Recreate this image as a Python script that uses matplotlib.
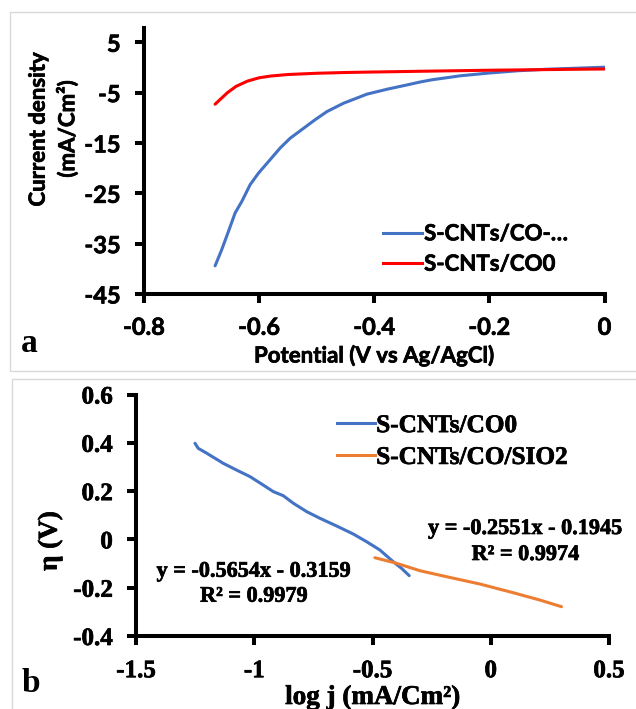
import matplotlib
matplotlib.use("Agg")
import matplotlib.pyplot as plt
import matplotlib.patheffects as pe
from matplotlib.patches import Rectangle
from matplotlib.lines import Line2D

W, H, DPI = 636, 709, 100

plt.rcParams["axes.unicode_minus"] = False
plt.rcParams["font.weight"] = "bold"

# ---- panel a: polarisation curves -------------------------------------
potential_co_sio2 = [-0.6765, -0.665, -0.6534, -0.6417, -0.630, -0.6157, -0.6012,
                     -0.5838, -0.5635, -0.546, -0.523, -0.503, -0.4823, -0.4533,
                     -0.4127, -0.378, -0.3432, -0.32, -0.30, -0.25, -0.20, -0.15,
                     -0.10, -0.05, 0.0]
current_co_sio2 = [-39.4, -36.2, -32.6, -28.9, -26.6, -23.3, -21.0,
                   -18.7, -16.0, -14.05, -12.1, -10.4, -8.77, -7.1,
                   -5.3, -4.33, -3.47, -2.88, -2.45, -1.65, -1.1, -0.65,
                   -0.35, -0.15, 0.05]

potential_co0 = [-0.6765, -0.67, -0.655, -0.64, -0.62, -0.60, -0.58, -0.55,
                 -0.50, -0.45, -0.40, -0.30, -0.20, -0.10, 0.0]
current_co0 = [-7.3, -6.6, -5.0, -3.75, -2.7, -2.05, -1.7, -1.4,
               -1.15, -1.0, -0.9, -0.72, -0.55, -0.42, -0.3]

lsv_xticks = [-0.8, -0.6, -0.4, -0.2, 0]
lsv_xticklabels = ["-0.8", "-0.6", "-0.4", "-0.2", "0"]
lsv_yticks = [5, -5, -15, -25, -35, -45]
lsv_yticklabels = ["5", "-5", "-15", "-25", "-35", "-45"]
lsv_names = ["S-CNTs/CO-…", "S-CNTs/CO0"]

# ---- panel b: Tafel plots ---------------------------------------------
logj_co0 = [-1.2506, -1.2367, -1.2012, -1.131, -1.0745, -1.018, -0.962, -0.9197,
            -0.8774, -0.8352, -0.7785, -0.7223, -0.6517, -0.5816, -0.525,
            -0.4687, -0.4125, -0.377, -0.3448]
eta_co0 = [0.398, 0.377, 0.357, 0.315, 0.287, 0.260, 0.225, 0.198,
           0.181, 0.150, 0.115, 0.0874, 0.0555, 0.0224, -0.0095,
           -0.0439, -0.0923, -0.120, -0.150]

logj_sio2 = [-0.4898, -0.398, -0.2997, -0.1868, -0.0461, 0.0947, 0.2075, 0.2992]
eta_sio2 = [-0.0758, -0.099, -0.1296, -0.1545, -0.1847, -0.2207, -0.251, -0.2787]

tafel_xticks = [-1.5, -1, -0.5, 0, 0.5]
tafel_xticklabels = ["-1.5", "-1", "-0.5", "0", "0.5"]
tafel_yticks = [0.6, 0.4, 0.2, 0, -0.2, -0.4]
tafel_yticklabels = ["0.6", "0.4", "0.2", "0", "-0.2", "-0.4"]
tafel_names = ["S-CNTs/CO0", "S-CNTs/CO/SIO2"]
fit_co0 = ["y = -0.5654x - 0.3159", "R² = 0.9979"]
fit_sio2 = ["y = -0.2551x - 0.1945", "R² = 0.9974"]

BLUE = "#4472C4"
RED = "#FF0000"
ORANGE = "#ED7D31"
SANS = "Lato"
SERIF = "Liberation Serif"
HEAVY = [pe.withStroke(linewidth=0.5, foreground="black")]


def fx(px):
    return px / W


def fy(py):
    return 1 - py / H


fig = plt.figure(figsize=(W / DPI, H / DPI), dpi=DPI)
fig.patch.set_facecolor("white")

# light panel frames
for x0, y0, x1, y1 in [(10, 11.7, 660, 370.7), (11.5, 379, 660, 740)]:
    fig.patches.append(Rectangle((fx(x0), fy(y1)), fx(x1 - x0), (y1 - y0) / H,
                                 transform=fig.transFigure, fill=False,
                                 edgecolor="#d9d9d9", linewidth=1.0, zorder=0))


def style_axes(ax, family, size, xticks, xlabels, yticks, ylabels, ypad, xpad):
    for side in ("top", "right"):
        ax.spines[side].set_visible(False)
    for side in ("left", "bottom"):
        ax.spines[side].set_linewidth(2.9)
        ax.spines[side].set_color("black")
    ax.tick_params(direction="out", length=6.2, width=2.9, color="black",
                   labelsize=size, labelfontfamily=family)
    ax.tick_params(axis="y", pad=ypad)
    ax.tick_params(axis="x", pad=xpad)
    font = {"family": family, "weight": "bold", "size": size}
    ax.set_xticks(xticks)
    ax.set_xticklabels(xlabels, fontdict=font, path_effects=HEAVY)
    ax.set_yticks(yticks)
    ax.set_yticklabels(ylabels, fontdict=font, path_effects=HEAVY)


def heavy_legend(leg):
    for t in leg.get_texts():
        t.set_path_effects(HEAVY)


# ---------------- panel a ----------------
ax1 = fig.add_axes([fx(144), fy(294), (604.5 - 144) / W, (294 - 28) / H])
ax1.plot(potential_co_sio2, current_co_sio2, color=BLUE, lw=2.2, solid_capstyle="round")
ax1.plot(potential_co0, current_co0, color=RED, lw=2.2, solid_capstyle="round")
ax1.set_xlim(-0.8, 0)
ax1.set_ylim(-45, 7.84)
style_axes(ax1, SANS, 17, lsv_xticks, lsv_xticklabels, lsv_yticks, lsv_yticklabels,
           10.5, 9.5)

ax1.set_xlabel("Potential (V vs Ag/AgCl)", family=SANS, weight="bold", fontsize=16,
               va="baseline", ha="center", path_effects=HEAVY)
ax1.xaxis.set_label_coords(0.5, (294 - 362.5) / 266)
ax1.set_ylabel("Current density\n(mA/Cm²)", family=SANS, weight="bold",
               fontsize=16, va="center", ha="center", linespacing=1.45,
               path_effects=HEAVY)
ax1.yaxis.set_label_coords((53 - 144) / 460.5, (294 - 129) / 266)

h1 = [Line2D([], [], color=BLUE, lw=2.2), Line2D([], [], color=RED, lw=2.2)]
leg1 = ax1.legend(h1, lsv_names, loc="center left", bbox_to_anchor=(fx(383), fy(249)),
                  bbox_transform=fig.transFigure, frameon=False, borderpad=0,
                  borderaxespad=0, handlelength=1.75, handletextpad=0.1,
                  labelspacing=0.42, prop={"family": SANS, "weight": "bold", "size": 16})
heavy_legend(leg1)

fig.text(fx(21), fy(351.7), "a", family=SERIF, weight="bold", fontsize=24,
         va="baseline", ha="left")

# ---------------- panel b ----------------
ax2 = fig.add_axes([fx(136), fy(636), (609 - 136) / W, (636 - 394.5) / H])
ax2.plot(logj_co0, eta_co0, color=BLUE, lw=2.2, solid_capstyle="round")
ax2.plot(logj_sio2, eta_sio2, color=ORANGE, lw=2.2, solid_capstyle="round")
ax2.set_xlim(-1.5, 0.5)
ax2.set_ylim(-0.4, 0.6)
style_axes(ax2, SERIF, 18, tafel_xticks, tafel_xticklabels, tafel_yticks,
           tafel_yticklabels, 10.5, 10.5)

ax2.set_xlabel("log j (mA/Cm²)", family=SERIF, weight="bold", fontsize=19.5,
               va="baseline", ha="center", path_effects=HEAVY)
ax2.xaxis.set_label_coords((373 - 136) / 473, (636 - 704) / 241.5)
ax2.set_ylabel("η (V)", family=SERIF, weight="bold", fontsize=19.5,
               va="center", ha="center", path_effects=HEAVY)
ax2.yaxis.set_label_coords((50 - 136) / 473, (636 - 541) / 241.5)

h2 = [Line2D([], [], color=BLUE, lw=2.2), Line2D([], [], color=ORANGE, lw=2.2)]
leg2 = ax2.legend(h2, tafel_names, loc="center left", bbox_to_anchor=(fx(337), fy(441.5)),
                  bbox_transform=fig.transFigure, frameon=False, borderpad=0,
                  borderaxespad=0, handlelength=1.5, handletextpad=0.05,
                  labelspacing=0.35,
                  prop={"family": SERIF, "weight": "bold", "size": 18.2})
heavy_legend(leg2)

for lines, cx, base1, base2 in [(fit_co0, 254, 576.7, 601.7), (fit_sio2, 525.5, 534, 560)]:
    for txt, base in zip(lines, (base1, base2)):
        fig.text(fx(cx), fy(base), txt, family=SERIF, weight="bold", fontsize=16,
                 ha="center", va="baseline", path_effects=HEAVY)

fig.text(fx(21.5), fy(692), "b", family=SERIF, weight="bold", fontsize=24,
         va="baseline", ha="left")

fig.savefig("out.png", dpi=DPI, facecolor="white")
